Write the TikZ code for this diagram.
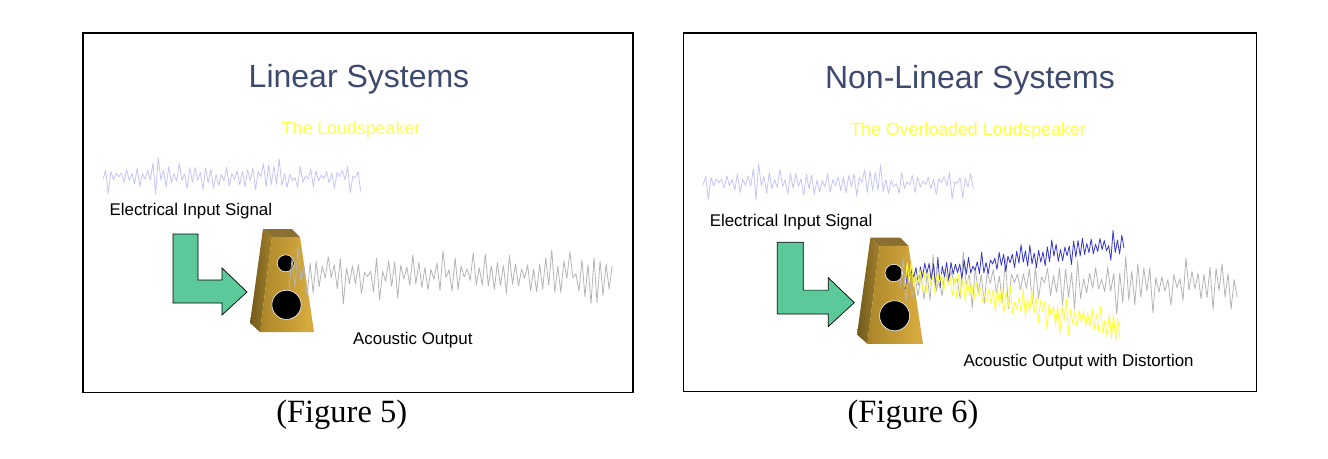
\documentclass[tikz,border=0pt]{standalone}
\usepackage{fontspec}
\setmainfont{Liberation Sans}
\newfontfamily\capfont{Liberation Serif}
\usetikzlibrary{positioning}

\definecolor{titleblue}{HTML}{3D4A6E}
\definecolor{subyellow}{HTML}{FFFF44}
\definecolor{inputblue}{HTML}{C4C4F6}
\definecolor{outgray}{HTML}{B4B4B4}
\definecolor{distblue}{HTML}{3535CC}
\definecolor{distyellow}{HTML}{FFFF38}
\definecolor{arrowgreen}{HTML}{5BC99A}
\definecolor{golddark}{HTML}{6E5010}
\definecolor{goldmid}{HTML}{B08A2C}
\definecolor{goldlight}{HTML}{D6AA3E}
\definecolor{goldtop}{HTML}{8A7030}
\definecolor{goldside}{HTML}{A2802A}
\pgfdeclarehorizontalshading{goldfront}{100bp}{color(0bp)=(golddark); color(30bp)=(goldmid); color(70bp)=(goldlight); color(100bp)=(goldmid)}

\tikzset{
  speaker/.pic={
    \fill[goldtop] (13,0) -- (42,0) -- (50,8) -- (22,8) -- cycle;
    \shade[left color=goldside!70!black, right color=goldside] (13,0) -- (22,8) -- (10,103) -- (0,94) -- cycle;
    \shade[shading=goldfront] (22,8) -- (50,8) -- (64,103) -- (10,103) -- cycle;
    \filldraw[fill=black, draw=white, line width=0.6pt] (35.7,34.3) circle[radius=8.5pt];
    \filldraw[fill=black, draw=white, line width=0.6pt] (36.5,75.8) circle[radius=14.6pt];
  },
  bendarrow/.pic={
    \filldraw[fill=arrowgreen, draw=black, line width=0.7pt]
      (0,0) -- (25,0) -- (25,46) -- (49,46) -- (49,34) -- (74,58) -- (49,81) -- (49,69) -- (0,69) -- cycle;
  }
}

\begin{document}
\begin{tikzpicture}[x=1pt, y=-1pt, inner sep=0pt,
    frame/.style={draw=black, line width=1.4pt},
    heading/.style={anchor=base, text=titleblue, font=\fontsize{32}{38}\selectfont},
    subheading/.style={anchor=base, text=subyellow, font=\fontsize{17.8}{21}\selectfont},
    label/.style={anchor=base west, text=black, font=\fontsize{16.9}{20}\selectfont},
    caption/.style={anchor=base, text=black, font=\capfont\fontsize{32.5}{38}\selectfont},
    wave/.style={line width=0.8pt, line join=round}]
    \useasboundingbox (0,0) rectangle (1328,458);

    % Figure 5
    \draw[frame] (83,33) rectangle (633,392.7);
    \node[heading] (title5) at (359,87.5) {Linear Systems};
    \node[subheading] (sub5) at (351,134) {The Loudspeaker};
    \pgfmathsetseed{11}
    \draw[wave, inputblue] plot[domain=0:98, samples=99] (103+2.63*\x, {177+3*rand+(1-2*mod(round(\x),2))*(1+7*rnd+10*pow(rnd,3))});
    \node[label] (input5) at (109.4,215) {Electrical Input Signal};
    \pic at (173,234) {bendarrow};
    \pic at (250,229) {speaker};
    \pgfmathsetseed{23}
    \draw[wave, outgray] plot[domain=0:107, samples=108] (289+3.02*\x, {274+5*rand+(1-2*mod(round(\x),2))*(2+12*rnd+17*pow(rnd,3))});
    \node[label] (output5) at (353,344.3) {Acoustic Output};
    \node[caption] (cap5) at (341.7,422) {(Figure 5)};

    % Figure 6
    \draw[frame] (683.5,33) rectangle (1256.7,391.7);
    \node[heading] (title6) at (970,88.5) {Non-Linear Systems};
    \node[subheading] (sub6) at (968,135) {The Overloaded Loudspeaker};
    \pgfmathsetseed{11}
    \draw[wave, inputblue] plot[domain=0:102, samples=103] (703+2.65*\x, {183+3*rand+(1-2*mod(round(\x),2))*(1+7*rnd+10*pow(rnd,3))});
    \node[label] (input6) at (709.6,226) {Electrical Input Signal};
    \pic[scale=1.04] at (777.3,242.3) {bendarrow};
    \pic[scale=1.03] at (857,237.7) {speaker};
    \pgfmathsetseed{37}
    \draw[wave, outgray] plot[domain=0:112, samples=113] (900+3.01*\x, {283+5*rand+(1-2*mod(round(\x),2))*(2+12*rnd+17*pow(rnd,3))});
    \pgfmathsetseed{41}
    \draw[wave, distblue] plot[domain=0:100, samples=101] (905+2.19*\x, {277-0.33*\x+3*rand+(1-2*mod(round(\x),2))*(1+8*rnd+8*pow(rnd,3))});
    \pgfmathsetseed{53}
    \draw[wave, distyellow] plot[domain=0:100, samples=101] (905+2.15*\x, {272+0.58*\x+4*rand+(1-2*mod(round(\x),2))*(2+10*rnd+10*pow(rnd,3))});
    \node[label] (output6) at (963.3,366.7) {Acoustic Output with Distortion};
    \node[caption] (cap6) at (913,422) {(Figure 6)};
\end{tikzpicture}
\end{document}
